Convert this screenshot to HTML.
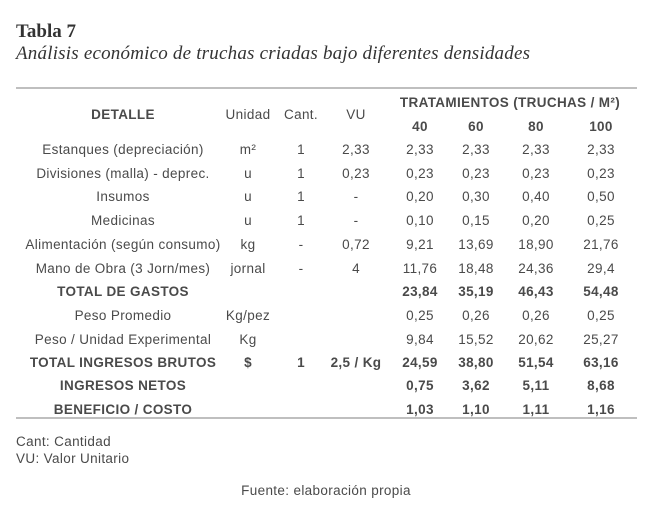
<!DOCTYPE html>
<html><head><meta charset="utf-8"><style>
html,body{margin:0;padding:0;background:#fff;}
svg text{font-family:"Liberation Sans",sans-serif;fill:#4a4a4a;font-size:13.5px;letter-spacing:0.35px;}
.b{font-weight:bold;fill:#4a4a4a;}
</style></head><body>
<svg width="650" height="511" xmlns="http://www.w3.org/2000/svg">
<text x="16" y="37" style="font-family:'Liberation Serif',serif;font-size:19px;font-weight:bold;fill:#333;letter-spacing:0">Tabla 7</text>
<text x="16" y="59" textLength="514" style="font-family:'Liberation Serif',serif;font-size:19px;font-style:italic;fill:#333;letter-spacing:0">Análisis económico de truchas criadas bajo diferentes densidades</text>
<line x1="16" y1="88" x2="637" y2="88" stroke="#aaa" stroke-width="1.5"/>
<line x1="16" y1="418" x2="637" y2="418" stroke="#aaa" stroke-width="1.5"/>
<g text-anchor="middle">
<text x="123" y="119" class="b">DETALLE</text>
<text x="248" y="119">Unidad</text>
<text x="301" y="119">Cant.</text>
<text x="356" y="119">VU</text>
<text x="510" y="107" class="b">TRATAMIENTOS (TRUCHAS / M²)</text>
<text x="420" y="131" class="b">40</text><text x="476" y="131" class="b">60</text><text x="536" y="131" class="b">80</text><text x="601" y="131" class="b">100</text>

<text x="123" y="154">Estanques (depreciación)</text><text x="248" y="154">m²</text><text x="301" y="154">1</text><text x="356" y="154">2,33</text><text x="420" y="154">2,33</text><text x="476" y="154">2,33</text><text x="536" y="154">2,33</text><text x="601" y="154">2,33</text>
<text x="123" y="178">Divisiones (malla) - deprec.</text><text x="248" y="178">u</text><text x="301" y="178">1</text><text x="356" y="178">0,23</text><text x="420" y="178">0,23</text><text x="476" y="178">0,23</text><text x="536" y="178">0,23</text><text x="601" y="178">0,23</text>
<text x="123" y="201">Insumos</text><text x="248" y="201">u</text><text x="301" y="201">1</text><text x="356" y="201">-</text><text x="420" y="201">0,20</text><text x="476" y="201">0,30</text><text x="536" y="201">0,40</text><text x="601" y="201">0,50</text>
<text x="123" y="225">Medicinas</text><text x="248" y="225">u</text><text x="301" y="225">1</text><text x="356" y="225">-</text><text x="420" y="225">0,10</text><text x="476" y="225">0,15</text><text x="536" y="225">0,20</text><text x="601" y="225">0,25</text>
<text x="123" y="249">Alimentación (según consumo)</text><text x="248" y="249">kg</text><text x="301" y="249">-</text><text x="356" y="249">0,72</text><text x="420" y="249">9,21</text><text x="476" y="249">13,69</text><text x="536" y="249">18,90</text><text x="601" y="249">21,76</text>
<text x="123" y="273">Mano de Obra (3 Jorn/mes)</text><text x="248" y="273">jornal</text><text x="301" y="273">-</text><text x="356" y="273">4</text><text x="420" y="273">11,76</text><text x="476" y="273">18,48</text><text x="536" y="273">24,36</text><text x="601" y="273">29,4</text>
<text x="123" y="296" class="b">TOTAL DE GASTOS</text><text x="420" y="296" class="b">23,84</text><text x="476" y="296" class="b">35,19</text><text x="536" y="296" class="b">46,43</text><text x="601" y="296" class="b">54,48</text>
<text x="123" y="320">Peso Promedio</text><text x="248" y="320">Kg/pez</text><text x="420" y="320">0,25</text><text x="476" y="320">0,26</text><text x="536" y="320">0,26</text><text x="601" y="320">0,25</text>
<text x="123" y="344">Peso / Unidad Experimental</text><text x="248" y="344">Kg</text><text x="420" y="344">9,84</text><text x="476" y="344">15,52</text><text x="536" y="344">20,62</text><text x="601" y="344">25,27</text>
<text x="123" y="367" class="b">TOTAL INGRESOS BRUTOS</text><text x="248" y="367" class="b">$</text><text x="301" y="367" class="b">1</text><text x="356" y="367" class="b">2,5 / Kg</text><text x="420" y="367" class="b">24,59</text><text x="476" y="367" class="b">38,80</text><text x="536" y="367" class="b">51,54</text><text x="601" y="367" class="b">63,16</text>
<text x="123" y="390" class="b">INGRESOS NETOS</text><text x="420" y="390" class="b">0,75</text><text x="476" y="390" class="b">3,62</text><text x="536" y="390" class="b">5,11</text><text x="601" y="390" class="b">8,68</text>
<text x="123" y="414" class="b">BENEFICIO / COSTO</text><text x="420" y="414" class="b">1,03</text><text x="476" y="414" class="b">1,10</text><text x="536" y="414" class="b">1,11</text><text x="601" y="414" class="b">1,16</text>
<text x="326" y="495">Fuente: elaboración propia</text>
</g>
<text x="16" y="446">Cant: Cantidad</text>
<text x="16" y="463">VU: Valor Unitario</text>
</svg>
</body></html>
